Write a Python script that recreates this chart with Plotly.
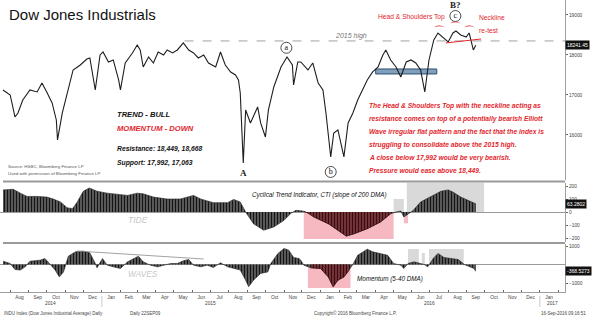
import plotly.graph_objects as go
import pandas as pd

# ---------------------------------------------------------------- data
price_dates = [
    "2014-07-20", "2014-08-01", "2014-08-09", "2014-08-14", "2014-08-22", "2014-09-03",
    "2014-09-15", "2014-09-23", "2014-10-01", "2014-10-10", "2014-10-17", "2014-10-19",
    "2014-10-27", "2014-11-06", "2014-11-14", "2014-11-26", "2014-12-07", "2014-12-12",
    "2014-12-21", "2014-12-29", "2015-01-03", "2015-01-12", "2015-01-20", "2015-01-29",
    "2015-02-01", "2015-02-09", "2015-02-21", "2015-03-01", "2015-03-06", "2015-03-11",
    "2015-03-20", "2015-03-28", "2015-04-05", "2015-04-14", "2015-04-20", "2015-04-29",
    "2015-05-07", "2015-05-17", "2015-05-26", "2015-06-03", "2015-06-11", "2015-06-20",
    "2015-06-28", "2015-07-10", "2015-07-18", "2015-07-26", "2015-08-04", "2015-08-12",
    "2015-08-17", "2015-08-20", "2015-08-25", "2015-08-29", "2015-09-06", "2015-09-18",
    "2015-09-23", "2015-10-01", "2015-10-06", "2015-10-15", "2015-10-27", "2015-11-06",
    "2015-11-15", "2015-11-17", "2015-11-24", "2015-11-29", "2015-12-11", "2015-12-19",
    "2015-12-28", "2016-01-05", "2016-01-10", "2016-01-18", "2016-01-23", "2016-01-30",
    "2016-02-04", "2016-02-09", "2016-02-16", "2016-02-24", "2016-03-03", "2016-03-11",
    "2016-03-19", "2016-03-28", "2016-04-06", "2016-04-14", "2016-04-19", "2016-04-27",
    "2016-05-06", "2016-05-14", "2016-05-23", "2016-05-31", "2016-06-08", "2016-06-16",
    "2016-06-23", "2016-06-30", "2016-07-08", "2016-07-15", "2016-07-23", "2016-08-01",
    "2016-08-09", "2016-08-14", "2016-08-22", "2016-08-31", "2016-09-05", "2016-09-12",
    "2016-09-16",
]
price_values = [
    17125, 17000, 16450, 16550, 16875, 17125,
    17075, 17300, 17075, 16800, 16375, 15875,
    16550, 17125, 17625, 17750, 17900, 17925,
    17125, 18000, 18075, 17825, 17875, 17375,
    17125, 17800, 18050, 18250, 18125, 17700,
    17950, 17800, 18075, 18000, 18125, 18050,
    18125, 18300, 18125, 18050, 17925, 18000,
    17800, 17700, 18075, 17750, 17575, 17500,
    17375, 17050, 15300, 16625, 16300, 16700,
    16300, 15950, 16625, 17200, 17700, 17950,
    17750, 17250, 17825, 17825, 17625, 17800,
    17300, 17125, 16550, 15450, 16050, 16125,
    15800, 15450, 16300, 16550, 16875, 17125,
    17375, 17575, 17700, 18000, 18125, 17875,
    17700, 17450, 17825, 17875, 17800, 17625,
    17075, 17875, 18375, 18550, 18450, 18325,
    18550, 18600, 18500, 18450, 18550, 18125,
    18241.45,
]

cti_dates = [
    "2014-07-20", "2014-08-06", "2014-08-18", "2014-08-29", "2014-09-15", "2014-10-01",
    "2014-10-12", "2014-10-24", "2014-11-04", "2014-11-13", "2014-11-21", "2014-12-01",
    "2014-12-11", "2014-12-24", "2015-01-10", "2015-01-27", "2015-02-13", "2015-03-01",
    "2015-03-11", "2015-03-28", "2015-04-20", "2015-05-12", "2015-06-03", "2015-06-15",
    "2015-07-06", "2015-07-30", "2015-08-09", "2015-08-20", "2015-08-29", "2015-09-11",
    "2015-09-28", "2015-10-15", "2015-11-01", "2015-11-13", "2015-11-21", "2015-11-29",
    "2015-12-04", "2015-12-11", "2015-12-21", "2016-01-14", "2016-01-30", "2016-02-13",
    "2016-02-26", "2016-03-19", "2016-04-10", "2016-04-27", "2016-05-06", "2016-05-14",
    "2016-05-19", "2016-05-26", "2016-06-03", "2016-06-16", "2016-07-03", "2016-07-20",
    "2016-08-01", "2016-08-09", "2016-08-22", "2016-09-08", "2016-09-16",
]
cti_values = [
    170, 175, 145, 120, 120, 115,
    100, 77, 33, 26, 77, 160,
    185, 160, 145, 135, 128, 145,
    140, 115, 100, 100, 128, 100,
    72, 72, 97, 77, 0, -90,
    -140, -115, -64, -8, 13, 10,
    5, -8, -38, -90, -140, -185,
    -167, -128, -77, -13, 0, 8,
    -38, -15, 10, 77, 120, 160,
    170, 153, 115, 77, 63.2802,
]

mom_dates = [
    "2014-07-20", "2014-08-01", "2014-08-09", "2014-08-18", "2014-08-26", "2014-09-03",
    "2014-09-20", "2014-09-28", "2014-10-07", "2014-10-15", "2014-10-22", "2014-10-29",
    "2014-11-06", "2014-11-18", "2014-12-01", "2014-12-12", "2014-12-21", "2014-12-24",
    "2015-01-02", "2015-01-10", "2015-01-20", "2015-02-01", "2015-02-13", "2015-02-23",
    "2015-03-03", "2015-03-11", "2015-03-23", "2015-04-04", "2015-04-14", "2015-04-26",
    "2015-05-07", "2015-05-17", "2015-05-26", "2015-06-03", "2015-06-15", "2015-06-26",
    "2015-07-06", "2015-07-18", "2015-07-30", "2015-08-09", "2015-08-20", "2015-08-29",
    "2015-09-03", "2015-09-11", "2015-09-23", "2015-10-05", "2015-10-10", "2015-10-22",
    "2015-11-01", "2015-11-09", "2015-11-17", "2015-11-26", "2015-11-29", "2015-12-04",
    "2015-12-16", "2016-01-01", "2016-01-14", "2016-01-22", "2016-01-30", "2016-02-09",
    "2016-02-18", "2016-02-24", "2016-03-03", "2016-03-19", "2016-03-28", "2016-04-10",
    "2016-04-22", "2016-05-02", "2016-05-14", "2016-05-19", "2016-05-26", "2016-06-05",
    "2016-06-22", "2016-06-28", "2016-07-07", "2016-07-15", "2016-07-25", "2016-08-06",
    "2016-08-18", "2016-08-28", "2016-09-08", "2016-09-13", "2016-09-16",
]
mom_values = [
    180, 55, -270, -300, -125, 180,
    235, 325, 0, -300, -670, -400,
    450, 685, 720, 630, 55, -180,
    325, -35, -125, -215, 145, 325,
    450, 145, -35, -125, -35, 55,
    55, 200, 270, -35, -125, -35,
    -160, 90, -125, -215, -300, -850,
    -1200, -850, -480, -400, 55, 600,
    865, 775, 380, 325, 235, -35,
    -180, -215, -670, -1200, -850, -670,
    -300, 0, 500, 830, 685, 600,
    500, 55, -35, -215, 55, 145,
    0, -125, 325, 600, 380, 325,
    270, 0, -125, -215, -368.5273,
]

high_2015 = 18351
resistance_levels = [18449, 18668]
support_levels = [17992, 17063]

# highlighted zones: (start, end, low, high)
support_zone = ("2016-04-02", "2016-07-13", 17525, 17650)
cti_red_zones = [("2015-12-04", "2016-05-02", -208, 0), ("2016-05-19", "2016-05-26", -87, 0)]
cti_grey_zones = [("2016-05-02", "2016-05-19", 0, 100), ("2016-05-24", "2016-09-30", -5, 227)]
mom_red_zones = [("2015-12-11", "2016-02-20", -1270, 0)]
mom_grey_zones = [("2016-05-26", "2016-06-13", 0, 838), ("2016-06-18", "2016-06-23", 0, 620),
                  ("2016-06-30", "2016-08-27", 0, 838)]

neckline = (("2016-07-28", 18300), ("2016-09-25", 18400))
waves_trendline = (("2014-11-21", 730), ("2015-06-20", 297))
shoulder_arcs = [("2016-07-17", 18575), ("2016-08-14", 18675), ("2016-09-05", 18575)]
wave_circles = [("2015-11-05", 18180, "a"), ("2016-01-18", 15075, "b"), ("2016-08-13", 18975, "c")]
wave_letters = [("2015-08-25", 15050, "A"), ("2016-08-14", 19260, "B?")]

x_start, x_end = "2014-07-15", "2017-02-12"

# ---------------------------------------------------------------- styling
FONT = "Liberation Sans, Arial, sans-serif"
RED = "#e3262d"
PLOT_W, PLOT_H = 565, 292


def px_x(x):
    return x / PLOT_W


def px_y(y):
    return (PLOT_H - y) / PLOT_H


price = pd.DataFrame({"date": pd.to_datetime(price_dates), "v": price_values})
cti = pd.DataFrame({"date": pd.to_datetime(cti_dates), "v": cti_values})
mom = pd.DataFrame({"date": pd.to_datetime(mom_dates), "v": mom_values})

fig = go.Figure()

stripes_dark = dict(shape="|", size=3, solidity=0.45, fgcolor="#151515", bgcolor="#666666",
                    fillmode="replace")
stripes_red = dict(shape="|", size=3, solidity=0.45, fgcolor="#3a0c10", bgcolor="#7d3a40",
                   fillmode="replace")


def histogram(df, yaxis, red_zones):
    fig.add_trace(go.Scatter(x=df["date"], y=df["v"], yaxis=yaxis, mode="lines",
                             line=dict(color="#222", width=0.6), fill="tozeroy",
                             fillpattern=stripes_dark, hoverinfo="skip"))
    for z0, z1, _, _ in red_zones:
        sub = df[(df["date"] >= z0) & (df["date"] <= z1)]
        fig.add_trace(go.Scatter(x=sub["date"], y=sub["v"], yaxis=yaxis, mode="lines",
                                 line=dict(color="#3a0c10", width=0.6), fill="tozeroy",
                                 fillpattern=stripes_red, hoverinfo="skip"))


# price line
fig.add_trace(go.Scatter(x=price["date"], y=price["v"], mode="lines",
                         line=dict(color="#1e1e1e", width=1.1), hoverinfo="skip"))

# indicator panels
histogram(cti, "y2", cti_red_zones[:1])
histogram(mom, "y3", mom_red_zones)

# circled wave labels
fig.add_trace(go.Scatter(
    x=[c[0] for c in wave_circles], y=[c[1] for c in wave_circles],
    mode="markers+text", text=[c[2] for c in wave_circles],
    textposition="middle center",
    textfont=dict(family="Liberation Serif, serif", size=8, color="#111"),
    marker=dict(symbol="circle-open", size=11, color="#222", line=dict(width=0.8)),
    hoverinfo="skip"))

shapes = []


def zone(z, yref, fill, line="rgba(0,0,0,0)"):
    shapes.append(dict(type="rect", xref="x", yref=yref, x0=z[0], x1=z[1], y0=z[2], y1=z[3],
                       fillcolor=fill, line=dict(color=line, width=1), layer="below"))


zone(support_zone, "y", "#7f9fbd", "#2f4f6e")
for z in cti_red_zones:
    zone(z, "y2", "#f6b9c1")
for z in cti_grey_zones:
    zone(z, "y2", "#d9d9d9")
for z in mom_red_zones:
    zone(z, "y3", "#f6b9c1")
for z in mom_grey_zones:
    zone(z, "y3", "#d9d9d9")

# 2015 high reference line
shapes.append(dict(type="line", xref="x", yref="y", x0="2015-05-19", x1=x_end,
                   y0=high_2015, y1=high_2015, line=dict(color="#8a8a8a", width=0.8, dash="dash")))
# neckline
shapes.append(dict(type="line", xref="x", yref="y", x0=neckline[0][0], x1=neckline[1][0],
                   y0=neckline[0][1], y1=neckline[1][1], line=dict(color=RED, width=1)))
# momentum trendline
shapes.append(dict(type="line", xref="x", yref="y3", x0=waves_trendline[0][0],
                   x1=waves_trendline[1][0], y0=waves_trendline[0][1], y1=waves_trendline[1][1],
                   line=dict(color="#8a8a8a", width=0.8)))
# panel separators
for yp in (px_y(181.5), px_y(243)):
    shapes.append(dict(type="line", xref="paper", yref="paper", x0=px_x(3), x1=1,
                       y0=yp, y1=yp, line=dict(color="#9a9a9a", width=2)))
# year separators under the date axis
for d in ("2015-01-01", "2017-01-01"):
    shapes.append(dict(type="line", xref="x", yref="paper", x0=d, x1=d,
                       y0=px_y(296), y1=px_y(307), line=dict(color="#bbbbbb", width=0.8)))

ann = []


def text(x, y, s, size, color="#111", bold=False, italic=False, anchor="left",
         family=FONT):
    if bold:
        s = f"<b>{s}</b>"
    if italic:
        s = f"<i>{s}</i>"
    ann.append(dict(x=px_x(x), y=px_y(y), xref="paper", yref="paper", text=s,
                    showarrow=False, xanchor=anchor, yanchor="middle",
                    font=dict(family=family, size=size, color=color)))


text(7, 15, "Dow Jones Industrials", 15)
text(115, 114, "TREND - BULL", 7.6, bold=True, italic=True)
text(115, 128, "MOMENTUM - DOWN", 7.6, color=RED, bold=True, italic=True)
text(115, 149, "Resistance: " + ", ".join(f"{v:,}" for v in resistance_levels), 6.8,
     bold=True, italic=True)
text(115, 163, "Support: " + ", ".join(f"{v:,}" for v in support_levels), 6.8,
     bold=True, italic=True)
text(6, 166, "Source: HSBC, Bloomberg Finance LP", 4.4, color="#555")
text(6, 174, "Used with permission of Bloomberg Finance LP", 4.4, color="#555")

paragraph = [
    "The Head & Shoulders Top with the neckline acting as",
    "resistance comes on top of a potentially bearish Elliott",
    "Wave irregular flat pattern and the fact that the index is",
    "struggling to consolidate above the 2015 high.",
    f"A close below {support_levels[0]:,} would be very bearish.",
    f"Pressure would ease above {resistance_levels[0]:,}.",
]
for i, line in enumerate(paragraph):
    text(367, 106 + i * 13, line, 6.7, color=RED, bold=True, italic=True)

text(376, 17, "Head & Shoulders Top", 6.7, color=RED)
text(477, 17, "Neckline", 6.7, color=RED)
text(477, 31, "re-test", 6.7, color=RED)
text(333, 36, "2015 high", 7, color="#777", italic=True)

text(250, 195, "Cyclical Trend Indicator, CTI (slope of 200 DMA)", 6.3, italic=True)
text(126, 220, "TIDE", 8.5, color="#c8c8c8", italic=True)
text(126, 274, "WAVES", 8.3, color="#c8c8c8", italic=True)
text(355, 279, "Momentum (5-40 DMA)", 6.3, italic=True)

text(2, 313, "INDU Index (Dow Jones Industrial Average) Daily", 4.5, color="#444")
text(128, 313, "Daily 22SEP09", 4.5, color="#444")
text(312, 313, "Copyright\u00a9 2016 Bloomberg Finance L.P.", 4.5, color="#444")
text(588, 313, "16-Sep-2016 09:16:51", 4.5, color="#444", anchor="right")

# year labels beneath the month labels
for d, label in (("2014-10-07", "2014"), ("2015-07-01", "2015"), ("2016-07-01", "2016"),
                 ("2017-01-22", "2017")):
    ann.append(dict(x=d, y=px_y(303), xref="x", yref="paper", text=label, showarrow=False,
                    xanchor="center", yanchor="middle",
                    font=dict(family=FONT, size=4.8, color="#444")))

# wave letters
for d, v, s in wave_letters:
    ann.append(dict(x=d, y=v, xref="x", yref="y", text=f"<b>{s}</b>", showarrow=False,
                    font=dict(family="Liberation Serif, serif", size=9, color="#222")))
# shoulder / head arcs
for d, v in shoulder_arcs:
    ann.append(dict(x=d, y=v, xref="x", yref="y", text="\u2312", showarrow=False,
                    font=dict(family="DejaVu Sans", size=13, color=RED)))

# last-value tags on the right axis
for yref, val, label in (("y", price_values[-1], f"{price_values[-1]:.2f}"),
                         ("y2", cti_values[-1], f"{cti_values[-1]:.4f}"),
                         ("y3", mom_values[-1], f"{mom_values[-1]:.4f}")):
    ann.append(dict(x=1.0, y=val, xref="paper", yref=yref, text=label, showarrow=False,
                    xanchor="left", yanchor="middle", bgcolor="#111",
                    font=dict(family=FONT, size=5, color="white"), borderpad=1))

axis_font = dict(family=FONT, size=4.8, color="#444")
yax = dict(side="right", anchor="x", showgrid=False, showline=True, linecolor="#a0a0a0",
           linewidth=1, ticks="outside", ticklen=2, tickcolor="#666", tickfont=axis_font,
           tickformat="d", zeroline=False, fixedrange=True)

fig.update_layout(
    width=596, height=329,
    margin=dict(l=0, r=31, t=0, b=37),
    paper_bgcolor="white", plot_bgcolor="white",
    showlegend=False,
    shapes=shapes, annotations=ann,
    xaxis=dict(type="date", range=[x_start, x_end], anchor="y3", showgrid=False,
               showline=True, linecolor="#a0a0a0", linewidth=1,
               dtick="M1", tick0="2014-08-01", tickformat="%b", ticklabelmode="period",
               ticks="inside", ticklen=2, tickcolor="#666", tickfont=axis_font),
    yaxis=dict(yax, domain=[0.382, 1], range=[14862, 19375],
               tickvals=[16000, 17000, 18000, 19000]),
    yaxis2=dict(yax, domain=[0.171, 0.375], range=[-231, 227],
                tickvals=[-200, -100, 0, 100, 200], zeroline=True,
                zerolinecolor="#9a9a9a", zerolinewidth=0.8),
    yaxis3=dict(yax, domain=[0, 0.164], range=[-1486, 1103],
                tickvals=[-1000, 1000], zeroline=True,
                zerolinecolor="#9a9a9a", zerolinewidth=0.8),
)

fig.write_html("out.html")
